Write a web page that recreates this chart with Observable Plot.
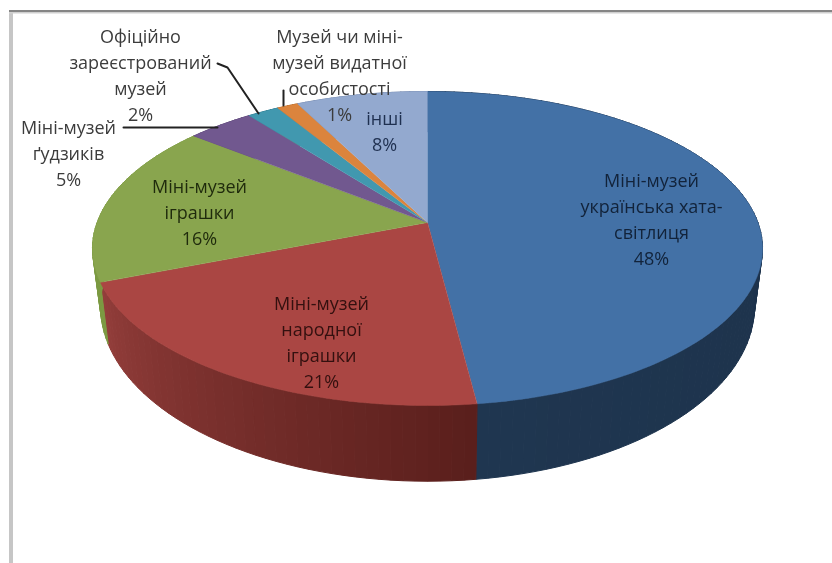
<!DOCTYPE html>
<html lang="uk">
<head>
<meta charset="utf-8">
<style>html,body{margin:0;padding:0;background:#fff}svg{display:block}svg text{filter:blur(.45px)}</style>
<script src="https://cdn.jsdelivr.net/npm/d3@7"></script>
<script src="https://cdn.jsdelivr.net/npm/@observablehq/plot@0.6"></script>
</head>
<body>
<div id="chart"></div>
<script>
// Data
const categories = ["Міні-музей українська хата-світлиця","Міні-музей народної іграшки","Міні-музей іграшки","Міні-музей ґудзиків","Офіційно зареєстрований музей","Музей чи міні-музей видатної особистості","інші"];
const sliceShares = [48, 21, 16.75, 3.8, 1.8, 1.2, 7.45];   // as drawn
const percentLabels = ["48%","21%","16%","5%","2%","1%","8%"];
const labelLines = [
  ["Міні-музей","українська хата-","світлиця"],
  ["Міні-музей","народної","іграшки"],
  ["Міні-музей","іграшки"],
  ["Міні-музей","ґудзиків"],
  ["Офіційно","зареєстрований","музей"],
  ["Музей чи міні-","музей видатної","особистості"],
  ["інші"]
];

// Styling and layout, kept apart from the data
const topColors = ["#4371a6","#aa4643","#89a54e","#71588f","#4198af","#db843d","#93a9cf"];
const wallLeft = ["#1f3650","#943e3b","#7c9a42","#563f70","#2f7488","#ad6528","#6f83a8"];
const wallRight = ["#1b2f47","#5a1f1c","#7c9a42","#563f70","#2f7488","#ad6528","#6f83a8"];
const labelCentres = [[651,217],[321,340],[199,210],[68,151],[140,73],[339,73],[384,129]];
const labelColors = ["#12233a","#33100f","#1f2a0c","#3c3c3c","#3c3c3c","#3c3c3c","#1f3050"];
const leaders = [
  [[123,127],[217,127]],
  [[217,63],[227,67],[258,113]],
  [[283,90],[283,105]]
];
const pie = {cx:427, cy:222, R:330.4, H:152.7, k:0.1656, wallDrop:55, wallH:170, wallShrink:0.976};

// Perspective projection of a point on the pie's rim (level 0 top face, level 1 bottom)
function rim(fraction, level) {
  const t = fraction * 2 * Math.PI, X = Math.sin(t), Y = Math.cos(t), s = 1 / (1 + pie.k * Y);
  return level
    ? {x: pie.cx + pie.R * pie.wallShrink * X * s, y: pie.cy + pie.wallDrop - pie.wallH * Y * s}
    : {x: pie.cx + pie.R * X * s, y: pie.cy - pie.H * Y * s};
}
const total = d3.sum(sliceShares);
const starts = d3.cumsum([0, ...sliceShares]).map(v => v / total);
const steps = i => Math.max(8, Math.round(sliceShares[i] * 2));
function arc(i, level) {
  const n = steps(i), a = starts[i], b = starts[i + 1];
  return d3.range(n + 1).map(j => rim(a + (b - a) * j / n, level));
}
const topFace = i => [{x: pie.cx, y: pie.cy}, ...arc(i, 0)];
// The wall of a slice as strips, so that their union reaches the pie's silhouette
const wallStrips = categories.flatMap((_, i) => {
  const n = steps(i), top = arc(i, 0), bottom = arc(i, 1), mix = d3.interpolateRgb(wallRight[i], wallLeft[i]);
  return d3.range(n).flatMap(j => {
    const id = i + "-" + j, color = mix(j / n);
    return [top[j], top[j + 1], bottom[j + 1], bottom[j], top[j]].map(p => ({...p, id, color}));
  });
});

const textRows = categories.map((c, i) => ({
  text: [...labelLines[i], percentLabels[i]].join("\n"),
  x: labelCentres[i][0], y: labelCentres[i][1], color: labelColors[i]
}));

const plot = Plot.plot({
  width: 832, height: 563,
  margin: 0,
  x: {domain: [0, 832], axis: null},
  y: {domain: [563, 0], axis: null},
  color: {type: "identity"},
  style: {background: "#fff"},
  marks: [
    Plot.ruleX([10.5], {y1: 10, y2: 563, stroke: "#c6c6c6", strokeWidth: 4}),
    Plot.ruleY([12], {x1: 9, x2: 832, stroke: "#cfcfcf", strokeWidth: 2}),
    Plot.ruleY([10.5], {x1: 9, x2: 832, stroke: "#858585", strokeWidth: 2}),
    Plot.line(wallStrips, {x: "x", y: "y", z: "id", fill: "color", stroke: "color", strokeWidth: 1}),
    ...categories.map((_, i) => Plot.line(topFace(i), {x: "x", y: "y", fill: topColors[i], stroke: topColors[i], strokeWidth: 0.5})),
    ...leaders.map(l => Plot.line(l, {x: d => d[0], y: d => d[1], stroke: "#222", strokeWidth: 2})),
    Plot.text(textRows, {
      x: "x", y: "y", text: "text", fill: "color",
      fontFamily: "Open Sans", fontSize: 18, lineHeight: 1.44, textAnchor: "middle"
    })
  ]
});
document.getElementById("chart").append(plot);
</script>
</body>
</html>
